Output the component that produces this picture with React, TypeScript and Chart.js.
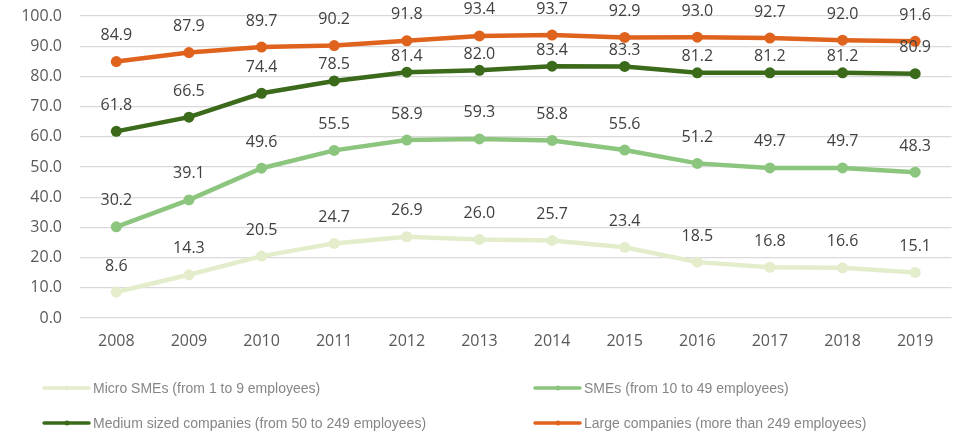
import React, { useEffect, useRef } from "react";
import { Chart, registerables } from "chart.js";

Chart.register(...registerables);

const years = ["2008", "2009", "2010", "2011", "2012", "2013", "2014", "2015", "2016", "2017", "2018", "2019"];
const microSMEs = [8.6, 14.3, 20.5, 24.7, 26.9, 26.0, 25.7, 23.4, 18.5, 16.8, 16.6, 15.1];
const smes = [30.2, 39.1, 49.6, 55.5, 58.9, 59.3, 58.8, 55.6, 51.2, 49.7, 49.7, 48.3];
const mediumCompanies = [61.8, 66.5, 74.4, 78.5, 81.4, 82.0, 83.4, 83.3, 81.2, 81.2, 81.2, 80.9];
const largeCompanies = [84.9, 87.9, 89.7, 90.2, 91.8, 93.4, 93.7, 92.9, 93.0, 92.7, 92.0, 91.6];
const seriesNames = [
  "Micro SMEs (from 1 to 9 employees)",
  "SMEs (from 10 to 49 employees)",
  "Medium sized companies (from 50 to 249 employees)",
  "Large companies (more than 249 employees)",
];
const seriesColors = ["#e3edcb", "#8cc57e", "#3b6a1b", "#df621d"];

const dataLabelPlugin = {
  id: "dataLabels",
  afterDatasetsDraw(chart: any) {
    const ctx = chart.ctx;
    ctx.save();
    ctx.font = "16px 'Open Sans', 'Liberation Sans', sans-serif";
    ctx.fillStyle = "#404040";
    ctx.textAlign = "center";
    ctx.textBaseline = "middle";
    const n = chart.data.datasets.length;
    chart.data.datasets.forEach((ds: any, i: number) => {
      const meta = chart.getDatasetMeta(i);
      meta.data.forEach((pt: any, j: number) => {
        let off = 26;
        const isLast = j === meta.data.length - 1;
        if (i + 1 < n && !isLast) {
          const above = chart.getDatasetMeta(i + 1).data[j];
          if (above && Math.abs(pt.y - off - above.y) < 12) off = 16;
        }
        ctx.fillText(Number(ds.data[j]).toFixed(1), pt.x, pt.y - off);
      });
    });
    ctx.restore();
  },
};

const legendPlugin = {
  id: "customLegend",
  afterDraw(chart: any) {
    const ctx = chart.ctx;
    const cols = [44, 535];
    const rows = [388, 423];
    ctx.save();
    ctx.font = "14px 'Liberation Sans', sans-serif";
    ctx.textBaseline = "middle";
    ctx.textAlign = "left";
    chart.data.datasets.forEach((ds: any, i: number) => {
      const x = cols[i % 2];
      const y = rows[Math.floor(i / 2)];
      ctx.strokeStyle = ds.borderColor;
      ctx.lineWidth = 3.5;
      ctx.lineCap = "round";
      ctx.beginPath();
      ctx.moveTo(x, y);
      ctx.lineTo(x + 45, y);
      ctx.stroke();
      ctx.fillStyle = ds.borderColor;
      ctx.beginPath();
      ctx.arc(x + 23, y, 2.5, 0, Math.PI * 2);
      ctx.fill();
      ctx.fillStyle = "#868686";
      ctx.fillText(ds.label, x + 49, y + 1);
    });
    ctx.restore();
  },
};

export default function App() {
  const ref = useRef<HTMLCanvasElement>(null);
  useEffect(() => {
    if (!ref.current) return;
    const seriesData = [microSMEs, smes, mediumCompanies, largeCompanies];
    const chart = new Chart(ref.current, {
      type: "line",
      data: {
        labels: years,
        datasets: seriesData.map((d, i) => ({
          label: seriesNames[i],
          data: d,
          borderColor: seriesColors[i],
          backgroundColor: seriesColors[i],
          pointBackgroundColor: seriesColors[i],
          pointBorderColor: seriesColors[i],
          borderWidth: 4.5,
          pointRadius: 5.5,
          pointBorderWidth: 0,
          tension: 0,
          order: 4 - i,
        })),
      },
      options: {
        responsive: false,
        animation: false,
        layout: { padding: { top: 16, right: 0, left: 0, bottom: 0 } },
        plugins: { legend: { display: false }, tooltip: { enabled: false } },
        scales: {
          x: {
            offset: true,
            grid: { display: false, drawTicks: false },
            border: { display: false },
            ticks: {
              color: "#595959",
              font: { size: 16, family: "'Open Sans', 'Liberation Sans', sans-serif" },
              padding: 14,
              maxRotation: 0,
            },
            afterFit(scale: any) {
              scale.height = 114;
            },
          },
          y: {
            min: 0,
            max: 100,
            grid: {
              color: "#d9d9d9",
              lineWidth: 1.3,
              drawTicks: true,
              tickLength: 18,
              tickColor: "rgba(0,0,0,0)",
            },
            border: { display: false },
            ticks: {
              stepSize: 10,
              color: "#595959",
              font: { size: 16, family: "'Open Sans', 'Liberation Sans', sans-serif" },
              padding: 0,
              callback: (v: any) => Number(v).toFixed(1),
            },
            afterFit(scale: any) {
              scale.width = 80;
            },
          },
        },
      },
      plugins: [dataLabelPlugin, legendPlugin],
    });
    return () => chart.destroy();
  }, []);
  return (
    <div style={{ position: "fixed", left: 0, top: 0, width: 957, height: 432, background: "#fff" }}>
      <canvas ref={ref} width={957} height={432} />
    </div>
  );
}
